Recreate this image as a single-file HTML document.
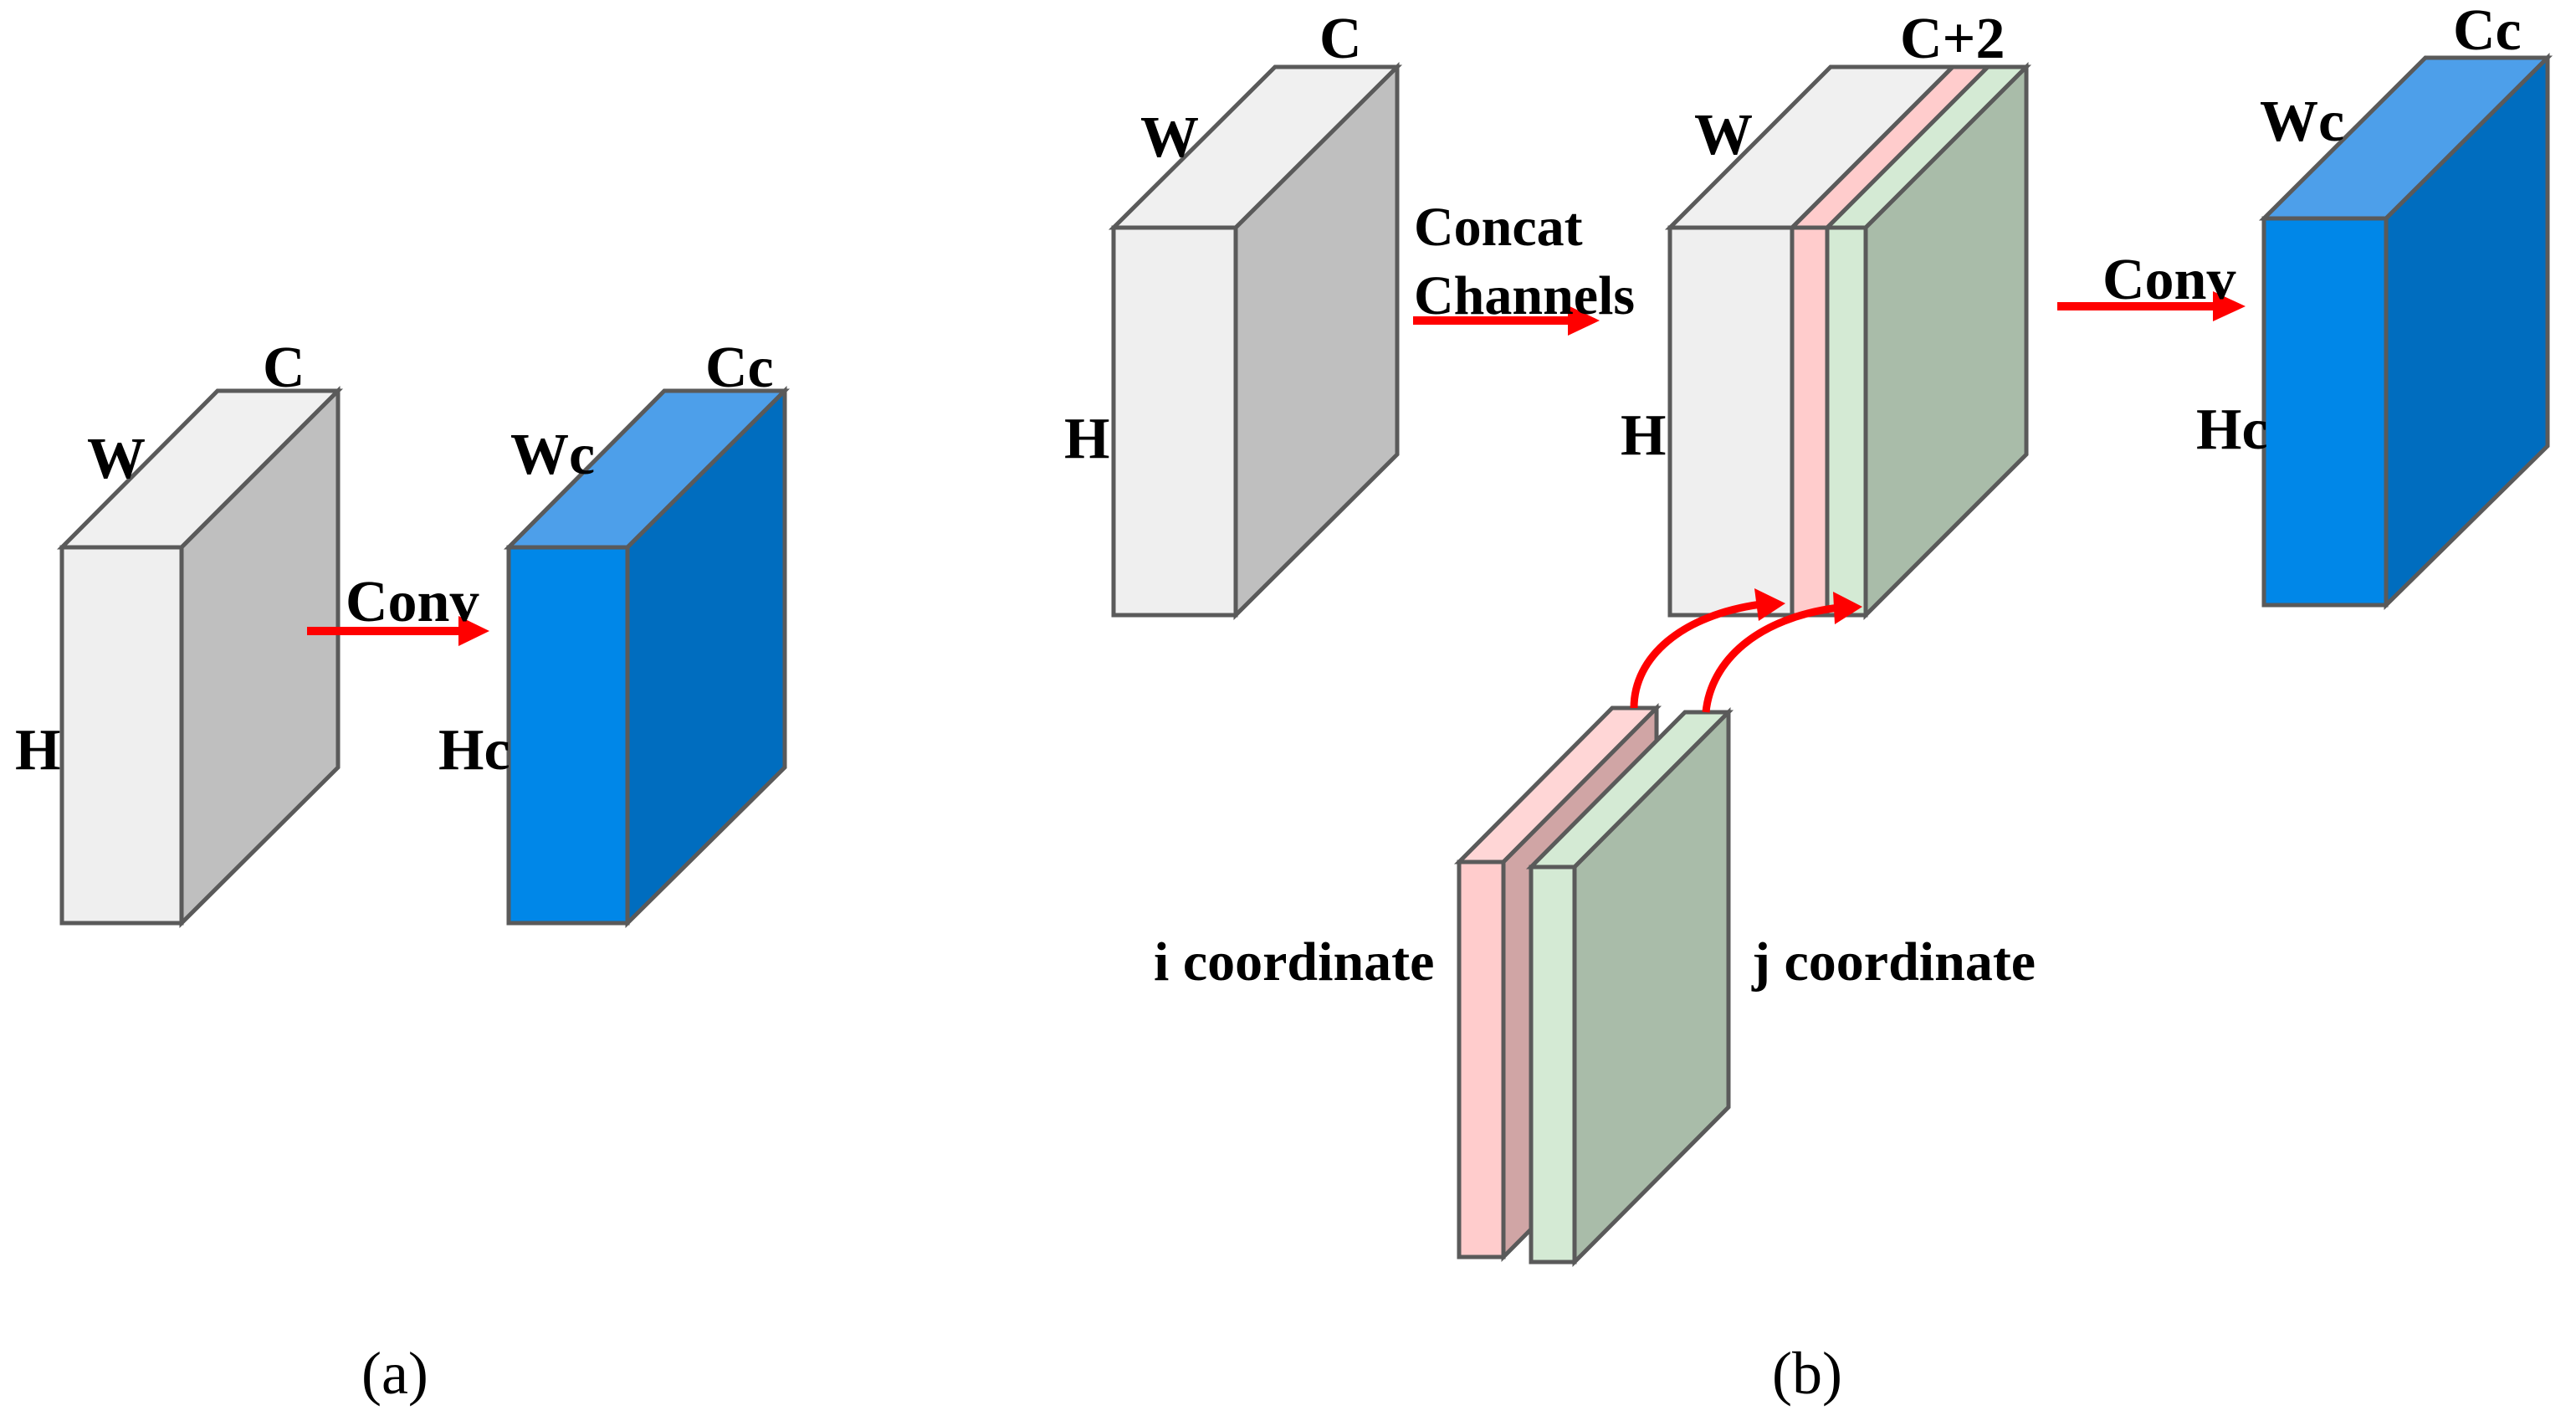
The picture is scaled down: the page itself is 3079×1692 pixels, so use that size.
<!DOCTYPE html>
<html><head><meta charset="utf-8"><style>
html,body{margin:0;padding:0;background:#fff;}
svg{display:block;}
text{font-family:"Liberation Serif",serif;font-weight:bold;fill:#000;}
</style></head><body>
<svg width="3079" height="1692" viewBox="0 0 3079 1692" xmlns="http://www.w3.org/2000/svg">
<g stroke="#5a5a5a" stroke-width="5" stroke-linejoin="miter">
<!-- (a) gray -->
<polygon points="74,654 260,467 404,467 217,654" fill="#f0f0f0"/>
<polygon points="217,654 404,467 404,917 217,1103" fill="#bfbfbf"/>
<rect x="74" y="654" width="143" height="449" fill="#efefef"/>
<!-- (a) blue -->
<polygon points="608,654 794,467 938,467 750,654" fill="#4d9fea"/>
<polygon points="750,654 938,467 938,917 750,1103" fill="#006dbf"/>
<rect x="608" y="654" width="142" height="449" fill="#0087e8"/>
<!-- (b) block1 -->
<polygon points="1331,272 1524,80 1670,80 1477,272" fill="#f0f0f0"/>
<polygon points="1477,272 1670,80 1670,543 1477,735" fill="#bfbfbf"/>
<rect x="1331" y="272" width="146" height="463" fill="#efefef"/>
<!-- (b) block2 -->
<polygon points="1996,272 2188,80 2334,80 2142,272" fill="#f0f0f0"/>
<polygon points="2142,272 2334,80 2376,80 2184,272" fill="#ffcccc"/>
<polygon points="2184,272 2376,80 2422,80 2230,272" fill="#d4ead4"/>
<polygon points="2230,272 2422,80 2422,543 2230,735" fill="#a9bca9"/>
<rect x="1996" y="272" width="146" height="463" fill="#efefef"/>
<rect x="2142" y="272" width="42" height="463" fill="#ffcccc"/>
<rect x="2184" y="272" width="46" height="463" fill="#d4ead4"/>
<!-- (b) block3 blue -->
<polygon points="2706,261 2899,69 3045,69 2852,261" fill="#4d9fea"/>
<polygon points="2852,261 3045,69 3045,533 2852,723" fill="#006dbf"/>
<rect x="2706" y="261" width="146" height="462" fill="#0087e8"/>
<!-- pink slab -->
<polygon points="1744,1030 1927,846 1980,846 1797,1030" fill="#ffd6d6"/>
<polygon points="1797,1030 1980,846 1980,1318 1797,1502" fill="#d0a5a5"/>
<rect x="1744" y="1030" width="53" height="472" fill="#ffcccc"/>
<!-- green slab -->
<polygon points="1830,1036 2014,851 2066,851 1882,1036" fill="#d4ead4"/>
<polygon points="1882,1036 2066,851 2066,1323 1882,1508" fill="#a9bca9"/>
<rect x="1830" y="1036" width="52" height="472" fill="#d4ead4"/>
</g>
<!-- arrows -->
<g fill="#ff0000">
<rect x="367" y="749" width="185" height="10"/>
<polygon points="548,736 585,754 548,772"/>
<rect x="1689" y="378" width="190" height="10"/>
<polygon points="1874,365 1912,383 1874,401"/>
<rect x="2459" y="361" width="190" height="10"/>
<polygon points="2645,348 2684,366 2645,384"/>
<polygon points="2097,703 2134,721 2102,742"/>
<polygon points="2191,707 2226,725 2193,746"/>
</g>
<g fill="none" stroke="#ff0000" stroke-width="9">
<path d="M1953,846 C1953,785 2010,735 2105,722"/>
<path d="M2039,851 C2045,790 2100,738 2198,726"/>
</g>
<!-- labels -->
<g font-size="70">
<text x="314" y="462">C</text>
<text x="104" y="571">W</text>
<text x="18" y="919">H</text>
<text x="843" y="462">Cc</text>
<text x="610" y="566">Wc</text>
<text x="524" y="919">Hc</text>
<text x="413" y="742">Conv</text>
<text x="1577" y="69">C</text>
<text x="1363" y="187">W</text>
<text x="1272" y="547">H</text>
<text x="2271" y="69">C+2</text>
<text x="2025" y="184">W</text>
<text x="1937" y="543">H</text>
<text x="2932" y="59">Cc</text>
<text x="2701" y="168">Wc</text>
<text x="2625" y="536">Hc</text>
<text x="2513" y="357">Conv</text>
</g>
<g font-size="66">
<text x="1690" y="293">Concat</text>
<text x="1690" y="375">Channels</text>
<text x="1379" y="1171">i coordinate</text>
<text x="2094" y="1171">j coordinate</text>
</g>
<g font-size="72" style="font-weight:normal">
<text x="432" y="1665" style="font-weight:normal">(a)</text>
<text x="2118" y="1665" style="font-weight:normal">(b)</text>
</g>
</svg>
</body></html>
